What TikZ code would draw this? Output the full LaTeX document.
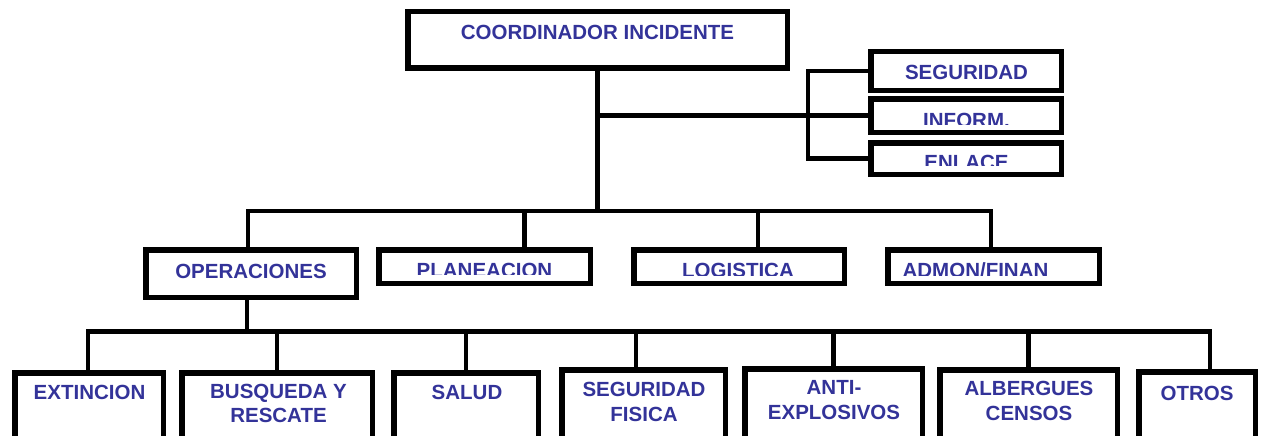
\documentclass[tikz,border=0pt]{standalone}
\usepackage{fontspec}
\setmainfont{Liberation Sans}
\definecolor{txt}{HTML}{333399}
\newcommand\orgbox[5]{\node[box, minimum width={#4-#2-5.5}, minimum height={#5-#3-5.5}] (#1) at ({(#2+#4)/2},{(#3+#5)/2}) {};}
\begin{document}
\begin{tikzpicture}[x=1pt,y=-1pt,
  box/.style={draw=black, line width=5.5pt, inner sep=0pt},
  conn/.style={draw=black, line width=4.5pt, line join=miter},
  lbl/.style={text=txt, font=\bfseries\fontsize{20.5}{24.5}\selectfont, align=center, inner sep=0pt}]
\useasboundingbox (0,0) rectangle (1263,436);
\clip (0,0) rectangle (1263,436);
% boxes
\orgbox{top}{405}{9}{790}{71}
\orgbox{seg}{868}{49}{1064}{93}
\orgbox{inf}{868}{96}{1064}{135}
\orgbox{enl}{868}{140}{1064}{177}
\orgbox{ops}{143}{247}{359}{300}
\orgbox{pla}{376}{247}{593}{286}
\orgbox{log}{631}{247}{847}{286}
\orgbox{adm}{885}{247}{1102}{286}
\orgbox{ext}{12}{370}{166}{450}
\orgbox{bus}{179}{370}{375}{450}
\orgbox{sal}{391}{370}{541}{450}
\orgbox{sef}{559}{367}{728}{450}
\orgbox{ant}{742}{366}{925}{450}
\orgbox{alb}{937}{367}{1120}{450}
\orgbox{otr}{1136}{369}{1258}{450}
% connectors
\coordinate (bar1) at (0,211);
\coordinate (bar2) at (0,331.5);
\draw[conn] (top.south) -- (top.south |- bar1);
\draw[conn] (top.south |- inf.west) -- (inf.west);
\draw[conn] (seg.west) -- ++(-60,0) coordinate (brk) |- (enl.west);
\draw[conn] ([xshift=-3pt]ops.north) -- ([xshift=-3pt]ops.north |- bar1) -- ([xshift=-2.5pt]adm.north |- bar1) -- ([xshift=-2.5pt]adm.north);
\draw[conn] ([xshift=40pt]pla.north) -- ([xshift=40pt]pla.north |- bar1);
\draw[conn] ([xshift=19pt]log.north) -- ([xshift=19pt]log.north |- bar1);
\draw[conn] ([xshift=-4pt]ops.south) -- ([xshift=-4pt]ops.south |- bar2);
\draw[conn] ([xshift=-1pt]ext.north) -- ([xshift=-1pt]ext.north |- bar2) -- ([xshift=13pt]otr.north |- bar2) -- ([xshift=13pt]otr.north);
\draw[conn] (bus.north) -- (bus.north |- bar2);
\draw[conn] (sal.north) -- (sal.north |- bar2);
\draw[conn] ([xshift=-7.5pt]sef.north) -- ([xshift=-7.5pt]sef.north |- bar2);
\draw[conn] (ant.north) -- (ant.north |- bar2);
\draw[conn] (alb.north) -- (alb.north |- bar2);
% labels
\node[lbl] (ttop) at (597.5,32) {COORDINADOR INCIDENTE};
\node[lbl] (tseg) at (966.5,72) {SEGURIDAD};
\begin{scope}
\clip (868,96) rectangle (1064,124.5);
\node[lbl] (tinf) at (966.5,120) {INFORM.};
\end{scope}
\begin{scope}
\clip (868,140) rectangle (1064,165.5);
\node[lbl] (tenl) at (966.5,162.4) {ENLACE};
\end{scope}
\node[lbl] (tops) at (251,271) {OPERACIONES};
\begin{scope}
\clip (376,247) rectangle (593,274.5);
\node[lbl] (tpla) at (484.5,270.6) {PLANEACION};
\end{scope}
\begin{scope}
\clip (631,247) rectangle (847,275);
\node[lbl] (tlog) at (738,270.6) {LOGISTICA};
\end{scope}
\begin{scope}
\clip (885,247) rectangle (1102,275);
\node[lbl] (tadm) at (975.5,270.6) {ADMON/FINAN};
\end{scope}
\node[lbl] (text) at (89.5,392) {EXTINCION};
\node[lbl] (tbus) at (278.5,403.5) {BUSQUEDA Y\\RESCATE};
\node[lbl] (tsal) at (467,392) {SALUD};
\node[lbl] (tsef) at (644,402) {SEGURIDAD\\FISICA};
\node[lbl] (tant) at (834,400) {ANTI-\\EXPLOSIVOS};
\node[lbl] (talb) at (1029,401) {ALBERGUES\\CENSOS};
\node[lbl] (totr) at (1197,393) {OTROS};
\end{tikzpicture}
\end{document}
